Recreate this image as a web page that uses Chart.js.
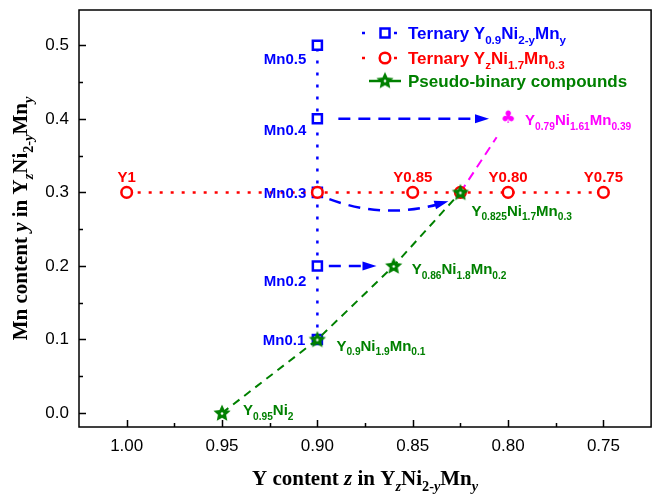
<!DOCTYPE html>
<html>
<head>
<meta charset="utf-8">
<script src="https://cdn.jsdelivr.net/npm/chart.js@4.4.1/dist/chart.umd.min.js"></script>
<style>
    html, body { margin: 0; padding: 0; background: #fff; }
</style>
</head>
<body>
<canvas id="grafico" width="660" height="494"></canvas>
<script>
// ticks
const ticksX = [1.0, 0.95, 0.9, 0.85, 0.8, 0.75];
const ticksXMenores = [0.975, 0.925, 0.875, 0.825, 0.775];
const ticksY = [0.0, 0.1, 0.2, 0.3, 0.4, 0.5];
const ticksYMenores = [0.05, 0.15, 0.25, 0.35, 0.45];

// Ternary Y0.9Ni2-yMny
const mnSerieX = [0.9, 0.9, 0.9, 0.9, 0.9];
const mnSerieY = [0.1, 0.2, 0.3, 0.4, 0.5];

// Ternary YzNi1.7Mn0.3
const ySerieX = [1.0, 0.9, 0.85, 0.825, 0.8, 0.75];
const ySerieY = [0.3, 0.3, 0.3, 0.3, 0.3, 0.3];

// Pseudo-binary compounds
const pseudoX = [0.95, 0.9, 0.86, 0.825];
const pseudoY = [0.0, 0.1, 0.2, 0.3];

// linha magenta + ponto trevo
const magentaX = [0.825, 0.806];
const magentaY = [0.3, 0.375];
const trevoX = [0.80];
const trevoY = [0.40];

// setas azuis (inicio, fim)
const setaAltaX = [0.889, 0.810];
const setaAltaY = [0.4, 0.4];
const setaBaixaX = [0.894, 0.869];
const setaBaixaY = [0.2, 0.2];
// seta curva: inicio, controle, fim
const setaCurvaX = [0.8937, 0.8651, 0.8313];
const setaCurvaY = [0.2908, 0.2636, 0.288];

const AZUL = '#0000ff';
const VERMELHO = '#ff0000';
const VERDE = '#008000';
const MAGENTA = '#ff00ff';

function juntar(xs, ys) {
    return xs.map((x, i) => ({ x: x, y: ys[i] }));
}

function criarEstrela(cor) {
    const c = document.createElement('canvas');
    c.width = 20;
    c.height = 20;
    const g = c.getContext('2d');
    g.beginPath();
    for (let i = 0; i < 10; i++) {
        const r = i % 2 === 0 ? 9 : 4.3;
        const a = -Math.PI / 2 + i * Math.PI / 5;
        const px = 10 + r * Math.cos(a);
        const py = 10.5 + r * Math.sin(a);
        if (i === 0) g.moveTo(px, py); else g.lineTo(px, py);
    }
    g.closePath();
    g.fillStyle = cor;
    g.fill();
    g.beginPath();
    g.arc(10, 10.5, 1.3, 0, Math.PI * 2);
    g.fillStyle = '#fff';
    g.fill();
    return c;
}

function criarTrevo(cor) {
    const c = document.createElement('canvas');
    c.width = 20;
    c.height = 20;
    const g = c.getContext('2d');
    g.fillStyle = cor;
    g.font = '17px "DejaVu Sans"';
    g.textAlign = 'center';
    g.textBaseline = 'middle';
    g.fillText('\u2663', 10, 10);
    return c;
}

const imgEstrela = criarEstrela(VERDE);
const imgTrevo = criarTrevo(MAGENTA);

function fonte(tipo, tamanho, familia, peso) {
    const sub = tipo.indexOf('sub') >= 0;
    const it = tipo.indexOf('it') >= 0;
    const t = sub ? tamanho * 0.68 : tamanho;
    return (it ? 'italic ' : '') + peso + ' ' + t.toFixed(1) + 'px ' + familia;
}

function textoRico(ctx, partes, x, y, alinhamento, tamanho, familia, peso, cor) {
    let largura = 0;
    const medidas = partes.map(([texto, tipo]) => {
        ctx.font = fonte(tipo, tamanho, familia, peso);
        const w = ctx.measureText(texto).width;
        largura += w;
        return w;
    });
    let cx = x;
    if (alinhamento === 'center') cx = x - largura / 2;
    if (alinhamento === 'right') cx = x - largura;
    ctx.fillStyle = cor;
    ctx.textAlign = 'left';
    ctx.textBaseline = 'alphabetic';
    partes.forEach(([texto, tipo], i) => {
        ctx.font = fonte(tipo, tamanho, familia, peso);
        const dy = tipo.indexOf('sub') >= 0 ? tamanho * 0.3 : 0;
        ctx.fillText(texto, cx, y + dy);
        cx += medidas[i];
    });
}

function desenharSeta(ctx, x1, y1, dirX, dirY) {
    const comp = Math.hypot(dirX, dirY);
    const ux = dirX / comp;
    const uy = dirY / comp;
    const L = 14;
    const W = 4.5;
    ctx.beginPath();
    ctx.moveTo(x1, y1);
    ctx.lineTo(x1 - ux * L - uy * W, y1 - uy * L + ux * W);
    ctx.lineTo(x1 - ux * L + uy * W, y1 - uy * L - ux * W);
    ctx.closePath();
    ctx.fill();
}

const SANS = '"Liberation Sans", Arial, sans-serif';
const SERIF = '"Liberation Serif", "Times New Roman", serif';

const anotacoes = [
    { x: 0.9, y: 0.5, dx: -11, dy: 13, al: 'right', cor: AZUL, partes: [['Mn0.5', '']] },
    { x: 0.9, y: 0.4, dx: -11, dy: 11, al: 'right', cor: AZUL, partes: [['Mn0.4', '']] },
    { x: 0.9, y: 0.3, dx: -11, dy: 0, al: 'right', cor: AZUL, partes: [['Mn0.3', '']] },
    { x: 0.9, y: 0.2, dx: -11, dy: 15, al: 'right', cor: AZUL, partes: [['Mn0.2', '']] },
    { x: 0.9, y: 0.1, dx: -12, dy: 0, al: 'right', cor: AZUL, partes: [['Mn0.1', '']] },
    { x: 1.0, y: 0.3, dx: 0, dy: -16, al: 'center', cor: VERMELHO, partes: [['Y1', '']] },
    { x: 0.85, y: 0.3, dx: 0, dy: -16, al: 'center', cor: VERMELHO, partes: [['Y0.85', '']] },
    { x: 0.8, y: 0.3, dx: 0, dy: -16, al: 'center', cor: VERMELHO, partes: [['Y0.80', '']] },
    { x: 0.75, y: 0.3, dx: 0, dy: -16, al: 'center', cor: VERMELHO, partes: [['Y0.75', '']] },
    { x: 0.95, y: 0.0, dx: 21, dy: -3, al: 'left', cor: VERDE, partes: [['Y', ''], ['0.95', 'sub'], ['Ni', ''], ['2', 'sub']] },
    { x: 0.9, y: 0.1, dx: 19, dy: 6, al: 'left', cor: VERDE, partes: [['Y', ''], ['0.9', 'sub'], ['Ni', ''], ['1.9', 'sub'], ['Mn', ''], ['0.1', 'sub']] },
    { x: 0.86, y: 0.2, dx: 18, dy: 3, al: 'left', cor: VERDE, partes: [['Y', ''], ['0.86', 'sub'], ['Ni', ''], ['1.8', 'sub'], ['Mn', ''], ['0.2', 'sub']] },
    { x: 0.825, y: 0.3, dx: 11, dy: 18, al: 'left', cor: VERDE, partes: [['Y', ''], ['0.825', 'sub'], ['Ni', ''], ['1.7', 'sub'], ['Mn', ''], ['0.3', 'sub']] },
    { x: 0.80, y: 0.40, dx: 17, dy: 1, al: 'left', cor: MAGENTA, partes: [['Y', ''], ['0.79', 'sub'], ['Ni', ''], ['1.61', 'sub'], ['Mn', ''], ['0.39', 'sub']] }
];

const legenda = [
    { cor: AZUL, tracejado: [3, 9], marcador: 'quadrado', partes: [['Ternary Y', ''], ['0.9', 'sub'], ['Ni', ''], ['2-y', 'sub'], ['Mn', ''], ['y', 'sub']] },
    { cor: VERMELHO, tracejado: [3, 8], marcador: 'circulo', partes: [['Ternary Y', ''], ['z', 'sub'], ['Ni', ''], ['1.7', 'sub'], ['Mn', ''], ['0.3', 'sub']] },
    { cor: VERDE, tracejado: [], marcador: 'estrela', partes: [['Pseudo-binary compounds', '']] }
];

const pluginDesenho = {
    id: 'desenho',
    beforeDatasetsDraw(chart) {
        const ctx = chart.ctx;
        const sx = chart.scales.x;
        const sy = chart.scales.y;
        ctx.save();
        ctx.strokeStyle = AZUL;
        ctx.fillStyle = AZUL;
        ctx.lineWidth = 2.5;
        [[setaAltaX, setaAltaY], [setaBaixaX, setaBaixaY]].forEach(([xs, ys]) => {
            const x0 = sx.getPixelForValue(xs[0]);
            const y0 = sy.getPixelForValue(ys[0]);
            const x1 = sx.getPixelForValue(xs[1]);
            const y1 = sy.getPixelForValue(ys[1]);
            ctx.setLineDash([12, 8]);
            ctx.beginPath();
            ctx.moveTo(x0, y0);
            ctx.lineTo(x1 - 12, y1);
            ctx.stroke();
            ctx.setLineDash([]);
            desenharSeta(ctx, x1, y1, x1 - x0, y1 - y0);
        });
        const p = setaCurvaX.map((v, i) => [sx.getPixelForValue(v), sy.getPixelForValue(setaCurvaY[i])]);
        ctx.setLineDash([12, 8]);
        ctx.beginPath();
        ctx.moveTo(p[0][0], p[0][1]);
        ctx.quadraticCurveTo(p[1][0], p[1][1], p[2][0] - 10, p[2][1] + 3);
        ctx.stroke();
        ctx.setLineDash([]);
        desenharSeta(ctx, p[2][0], p[2][1], p[2][0] - p[1][0], p[2][1] - p[1][1]);
        ctx.restore();
    },
    afterDatasetsDraw(chart) {
        const ctx = chart.ctx;
        const sx = chart.scales.x;
        const sy = chart.scales.y;
        ctx.save();
        anotacoes.forEach((a) => {
            const px = sx.getPixelForValue(a.x) + a.dx;
            const py = sy.getPixelForValue(a.y) + a.dy + 15 * 0.36;
            textoRico(ctx, a.partes, px, py, a.al, 15, SANS, 'bold', a.cor);
        });

        // legenda
        const linhas = [33, 58, 81];
        legenda.forEach((item, i) => {
            const ly = linhas[i];
            ctx.strokeStyle = item.cor;
            ctx.fillStyle = item.cor;
            ctx.lineWidth = 2.5;
            ctx.setLineDash(item.tracejado);
            ctx.beginPath();
            if (item.marcador === 'estrela') {
                ctx.moveTo(369, ly);
                ctx.lineTo(401, ly);
            } else {
                ctx.moveTo(362, ly);
                ctx.lineTo(366, ly);
                ctx.moveTo(394, ly);
                ctx.lineTo(398, ly);
            }
            ctx.stroke();
            ctx.setLineDash([]);
            if (item.marcador === 'quadrado') {
                ctx.fillStyle = '#fff';
                ctx.fillRect(380.5, ly - 4.5, 9, 9);
                ctx.strokeRect(380.5, ly - 4.5, 9, 9);
            } else if (item.marcador === 'circulo') {
                ctx.beginPath();
                ctx.arc(385, ly, 5.3, 0, Math.PI * 2);
                ctx.fillStyle = '#fff';
                ctx.fill();
                ctx.stroke();
            } else {
                ctx.drawImage(imgEstrela, 375, ly - 10.5);
            }
            textoRico(ctx, item.partes, 408, ly + 17 * 0.36, 'left', 17, SANS, 'bold', item.cor);
        });
        ctx.restore();
    },
    afterDraw(chart) {
        const ctx = chart.ctx;
        const area = chart.chartArea;
        const sx = chart.scales.x;
        const sy = chart.scales.y;
        ctx.save();
        ctx.strokeStyle = '#000';
        ctx.lineWidth = 1.5;
        ctx.strokeRect(area.left, area.top, area.right - area.left, area.bottom - area.top);
        ctx.beginPath();
        ticksX.forEach((v) => {
            const px = Math.round(sx.getPixelForValue(v)) + 0.5;
            ctx.moveTo(px, area.bottom);
            ctx.lineTo(px, area.bottom - 7);
        });
        ticksXMenores.forEach((v) => {
            const px = Math.round(sx.getPixelForValue(v)) + 0.5;
            ctx.moveTo(px, area.bottom);
            ctx.lineTo(px, area.bottom - 4);
        });
        ticksY.forEach((v) => {
            const py = Math.round(sy.getPixelForValue(v)) + 0.5;
            ctx.moveTo(area.left, py);
            ctx.lineTo(area.left + 7, py);
        });
        ticksYMenores.forEach((v) => {
            const py = Math.round(sy.getPixelForValue(v)) + 0.5;
            ctx.moveTo(area.left, py);
            ctx.lineTo(area.left + 4, py);
        });
        ctx.stroke();

        // titulos dos eixos
        const tituloX = [['Y content ', ''], ['z', 'it'], [' in Y', ''], ['z', 'subit'], ['Ni', ''], ['2-', 'sub'], ['y', 'subit'], ['Mn', ''], ['y', 'subit']];
        const tituloY = [['Mn content ', ''], ['y', 'it'], [' in Y', ''], ['z', 'subit'], ['Ni', ''], ['2-', 'sub'], ['y', 'subit'], ['Mn', ''], ['y', 'subit']];
        textoRico(ctx, tituloX, (area.left + area.right) / 2, 485, 'center', 21, SERIF, 'bold', '#000');
        ctx.translate(27, (area.top + area.bottom) / 2);
        ctx.rotate(-Math.PI / 2);
        textoRico(ctx, tituloY, 0, 0, 'center', 21, SERIF, 'bold', '#000');
        ctx.restore();
    }
};

const contexto = document.getElementById('grafico').getContext('2d');

new Chart(contexto, {
    type: 'scatter',
    data: {
        datasets: [
            {
                label: 'Pseudo-binary compounds',
                data: juntar(pseudoX, pseudoY),
                showLine: true,
                borderColor: VERDE,
                borderWidth: 2,
                borderDash: [8, 6],
                pointStyle: imgEstrela,
                order: 0
            },
            {
                label: 'Ternary YzNi1.7Mn0.3',
                data: juntar(ySerieX, ySerieY),
                showLine: true,
                borderColor: VERMELHO,
                borderWidth: 2.5,
                borderDash: [3, 8],
                pointStyle: 'circle',
                pointRadius: 5.3,
                pointBorderWidth: 2.5,
                pointBorderColor: VERMELHO,
                pointBackgroundColor: '#fff',
                order: 1
            },
            {
                label: 'Ternary Y0.9Ni2-yMny',
                data: juntar(mnSerieX, mnSerieY),
                showLine: true,
                borderColor: AZUL,
                borderWidth: 2.5,
                borderDash: [3, 9],
                pointStyle: 'rect',
                pointRadius: 6.4,
                pointBorderWidth: 2.5,
                pointBorderColor: AZUL,
                pointBackgroundColor: '#fff',
                order: 2
            },
            {
                label: 'Y0.79Ni1.61Mn0.39 linha',
                data: juntar(magentaX, magentaY),
                showLine: true,
                borderColor: MAGENTA,
                borderWidth: 2,
                borderDash: [9, 6],
                pointRadius: 0,
                order: 3
            },
            {
                label: 'Y0.79Ni1.61Mn0.39',
                data: juntar(trevoX, trevoY),
                pointStyle: imgTrevo,
                order: 3
            }
        ]
    },
    options: {
        responsive: false,
        animation: false,
        devicePixelRatio: 1,
        layout: { padding: { left: 0, top: 10, right: 5, bottom: 0 } },
        plugins: {
            legend: { display: false },
            tooltip: { enabled: false }
        },
        scales: {
            x: {
                type: 'linear',
                reverse: true,
                min: 0.725,
                max: 1.025,
                afterBuildTicks: (s) => { s.ticks = ticksX.map((v) => ({ value: v })); },
                afterFit: (s) => {
                    s.height = 67;
                    s.paddingLeft = 0;
                    s.paddingRight = 0;
                },
                ticks: {
                    callback: (v) => Number(v).toFixed(2),
                    color: '#000',
                    font: { family: SANS, size: 17 },
                    padding: 9,
                    autoSkip: false,
                    maxRotation: 0
                },
                grid: { display: false, drawTicks: false },
                border: { display: false }
            },
            y: {
                type: 'linear',
                min: -0.019,
                max: 0.548,
                afterBuildTicks: (s) => { s.ticks = ticksY.map((v) => ({ value: v })); },
                afterFit: (s) => {
                    s.width = 79;
                    s.paddingTop = 0;
                    s.paddingBottom = 0;
                },
                ticks: {
                    callback: (v) => Number(v).toFixed(1),
                    color: '#000',
                    font: { family: SANS, size: 17 },
                    padding: 10
                },
                grid: { display: false, drawTicks: false },
                border: { display: false }
            }
        }
    },
    plugins: [pluginDesenho]
});
</script>
</body>
</html>
